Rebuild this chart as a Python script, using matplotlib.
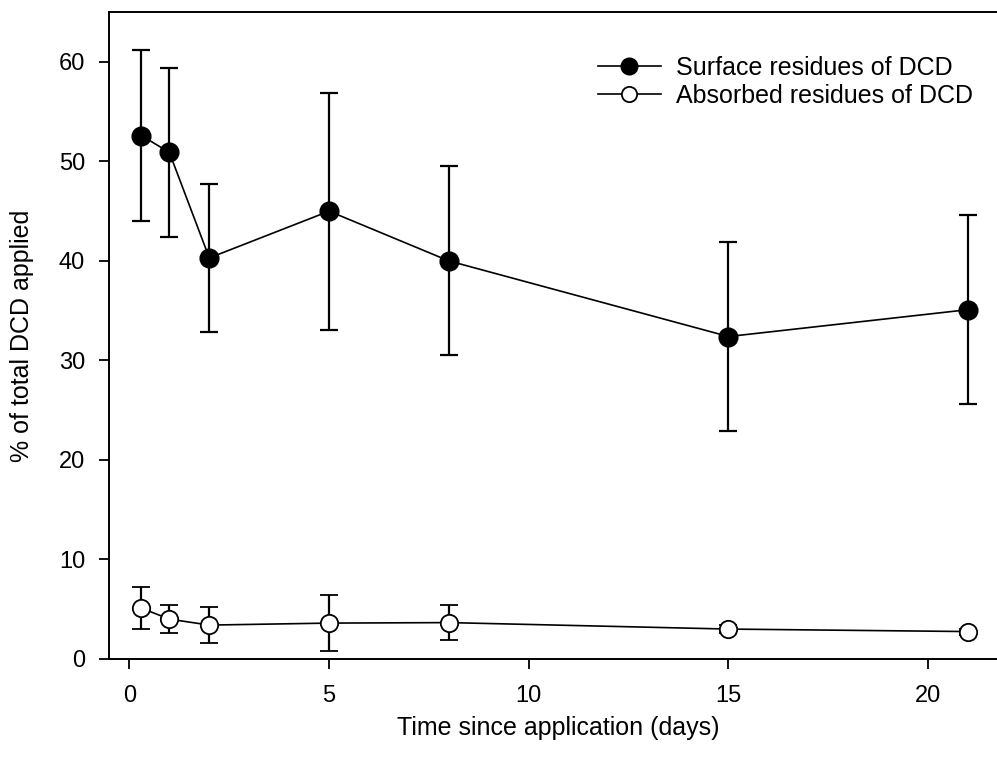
import matplotlib
matplotlib.use("Agg")
from matplotlib import pyplot as plt
from matplotlib.lines import Line2D

plt.rcParams['font.family'] = ['Liberation Sans', 'DejaVu Sans']

days = [0.3, 1, 2, 5, 8, 15, 21]

surface_mean = [52.6, 50.9, 40.3, 45.0, 40.0, 32.4, 35.1]
surface_err = [8.6, 8.5, 7.4, 11.9, 9.5, 9.5, 9.5]

absorbed_mean = [5.1, 4.0, 3.4, 3.6, 3.65, 3.0, 2.75]
absorbed_err = [2.1, 1.4, 1.8, 2.8, 1.75, 0.4, 0.3]

labels = ["Surface residues of DCD", "Absorbed residues of DCD"]

fig = plt.figure(figsize=(9.97, 7.6), dpi=100)
ax = fig.add_axes([0.109, 0.133, 0.902, 0.851])

ax.errorbar(days, surface_mean, yerr=surface_err, color="black", lw=1.2,
            marker="o", markersize=13.5, markerfacecolor="black",
            markeredgecolor="black", capsize=6.4, capthick=1.6,
            elinewidth=1.6, zorder=3)
ax.errorbar(days, absorbed_mean, yerr=absorbed_err, color="black", lw=1.2,
            marker="o", markersize=12.5, markerfacecolor="white",
            markeredgecolor="black", markeredgewidth=1.3, capsize=6.4,
            capthick=1.6, elinewidth=1.6, zorder=3)

ax.set_xlim(-0.52, 22)
ax.set_ylim(0, 65)
ax.set_xticks([0, 5, 10, 15, 20])
ax.set_yticks([0, 10, 20, 30, 40, 50, 60])
ax.tick_params(direction="out", length=7, width=1.3, labelsize=17, pad=10)
ax.tick_params(axis="x", pad=12)
for s in ax.spines.values():
    s.set_linewidth(1.4)

ax.set_xlabel("Time since application (days)", fontsize=18, labelpad=6)
ax.set_ylabel("% of total DCD applied", fontsize=18, labelpad=18)

handles = [
    Line2D([], [], color="black", lw=1.2, marker="o", markersize=12,
           markerfacecolor="black"),
    Line2D([], [], color="black", lw=1.2, marker="o", markersize=11,
           markerfacecolor="white", markeredgewidth=1.3),
]
fig.legend(handles, labels, loc="upper left", bbox_to_anchor=(598 / 997, 1 - 56 / 760),
           frameon=False, fontsize=18, handlelength=2.5, handletextpad=0.6,
           labelspacing=0.15, borderpad=0, borderaxespad=0)

fig.savefig("out.png", dpi=100)
